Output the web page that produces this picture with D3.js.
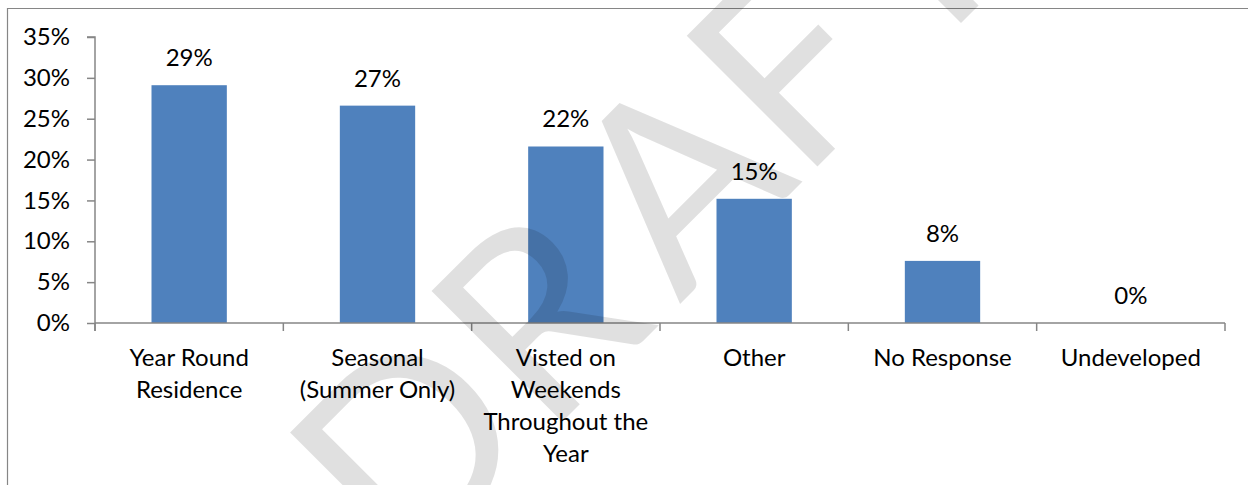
<!DOCTYPE html>
<html>
<head>
<meta charset="utf-8">
<script src="https://cdn.jsdelivr.net/npm/d3@7"></script>
<style>
  html, body { margin: 0; padding: 0; background: #fff; }
  svg { display: block; }
  text { font-family: Lato, "Open Sans", sans-serif; fill: #000; }
</style>
</head>
<body>
<svg id="chart" width="1248" height="485"></svg>
<script>
// ---- data ----
const categories = ["Year Round Residence", "Seasonal (Summer Only)", "Visted on Weekends Throughout the Year", "Other", "No Response", "Undeveloped"];
const categoryLines = [["Year Round", "Residence"], ["Seasonal", "(Summer Only)"], ["Visted on", "Weekends", "Throughout the", "Year"], ["Other"], ["No Response"], ["Undeveloped"]];
const values = [0.291, 0.266, 0.216, 0.152, 0.076, 0.0];
const yTicks = [0, 0.05, 0.10, 0.15, 0.20, 0.25, 0.30, 0.35];
const watermark = "DRAFT";

// ---- layout ----
const W = 1248, H = 485;
const plot = { left: 95, right: 1225, top: 37, bottom: 323 };
const axisColor = "#868686";
const barColor = "#4F81BD";
const fontSize = 24;

const svg = d3.select("#chart");

// frame
svg.append("path")
  .attr("d", `M7.5,${H} V8.5 H${W}`)
  .attr("fill", "none").attr("stroke", axisColor).attr("stroke-width", 1.2);

const x = d3.scaleBand().domain(categories).range([plot.left, plot.right])
  .paddingInner(0.6).paddingOuter(0.3);
const y = d3.scaleLinear().domain([0, 0.35]).range([plot.bottom, plot.top]);

// y axis
const yAxis = d3.axisLeft(y).tickValues(yTicks).tickFormat(d3.format(".0%")).tickSize(8).tickPadding(17);
const gy = svg.append("g").attr("transform", `translate(${plot.left},0)`).call(yAxis);
gy.select(".domain").attr("stroke", axisColor).attr("stroke-width", 1.5)
  .attr("d", `M-8,${plot.top}H0V${plot.bottom + 8}`);
gy.selectAll(".tick line").attr("stroke", axisColor).attr("stroke-width", 1.5);
gy.selectAll(".tick text").attr("font-size", fontSize).attr("font-family", "Lato").attr("fill", "#000");

// bars
svg.append("g").selectAll("rect").data(values).join("rect")
  .attr("x", (d, i) => x(categories[i]))
  .attr("width", x.bandwidth())
  .attr("y", d => y(d))
  .attr("height", d => y(0) - y(d))
  .attr("fill", barColor);

// x axis line + boundary ticks
const step = x.step();
const boundaries = d3.range(categories.length + 1).map(i => plot.left + i * step);
svg.append("line").attr("x1", plot.left).attr("x2", plot.right)
  .attr("y1", y(0)).attr("y2", y(0)).attr("stroke", axisColor).attr("stroke-width", 1.5);
svg.append("g").selectAll("line").data(boundaries).join("line")
  .attr("x1", d => d).attr("x2", d => d)
  .attr("y1", y(0)).attr("y2", y(0) + 8)
  .attr("stroke", axisColor).attr("stroke-width", 1.5);

// category labels
const cl = svg.append("g").selectAll("text").data(categories).join("text")
  .attr("text-anchor", "middle").attr("font-size", fontSize)
  .attr("x", d => x(d) + x.bandwidth() / 2)
  .attr("y", 366);
cl.each(function(d, i) {
  d3.select(this).selectAll("tspan").data(categoryLines[i]).join("tspan")
    .attr("x", x(d) + x.bandwidth() / 2)
    .attr("dy", (t, j) => j === 0 ? 0 : 32)
    .text(t => t);
});

// data labels
svg.append("g").selectAll("text").data(values).join("text")
  .attr("text-anchor", "middle").attr("font-size", fontSize)
  .attr("x", (d, i) => x(categories[i]) + x.bandwidth() / 2)
  .attr("y", d => y(d) - 19)
  .text(d => d3.format(".0%")(d));

// watermark (stretched WordArt-like word, letters placed along a -45° baseline)
const wmSize = 258;
const lsb = 0.085 * wmSize;
const letterPlace = [
  { anchor: "start",  pos: -200 - lsb },
  { anchor: "start",  pos: 0 - lsb },
  { anchor: "middle", pos: 255 },
  { anchor: "start",  pos: 361 - lsb },
  { anchor: "middle", pos: 578 }
];
const wm = svg.append("g")
  .attr("transform", "translate(561,423) rotate(-45)")
  .attr("fill-opacity", 0.12);
wm.selectAll("text").data(watermark.split("")).join("text")
  .attr("x", (c, i) => letterPlace[i].pos)
  .attr("y", 0)
  .attr("text-anchor", (c, i) => letterPlace[i].anchor)
  .attr("font-size", wmSize)
  .attr("font-family", "Lato")
  .style("fill", "#000")
  .text(c => c);
</script>
</body>
</html>
